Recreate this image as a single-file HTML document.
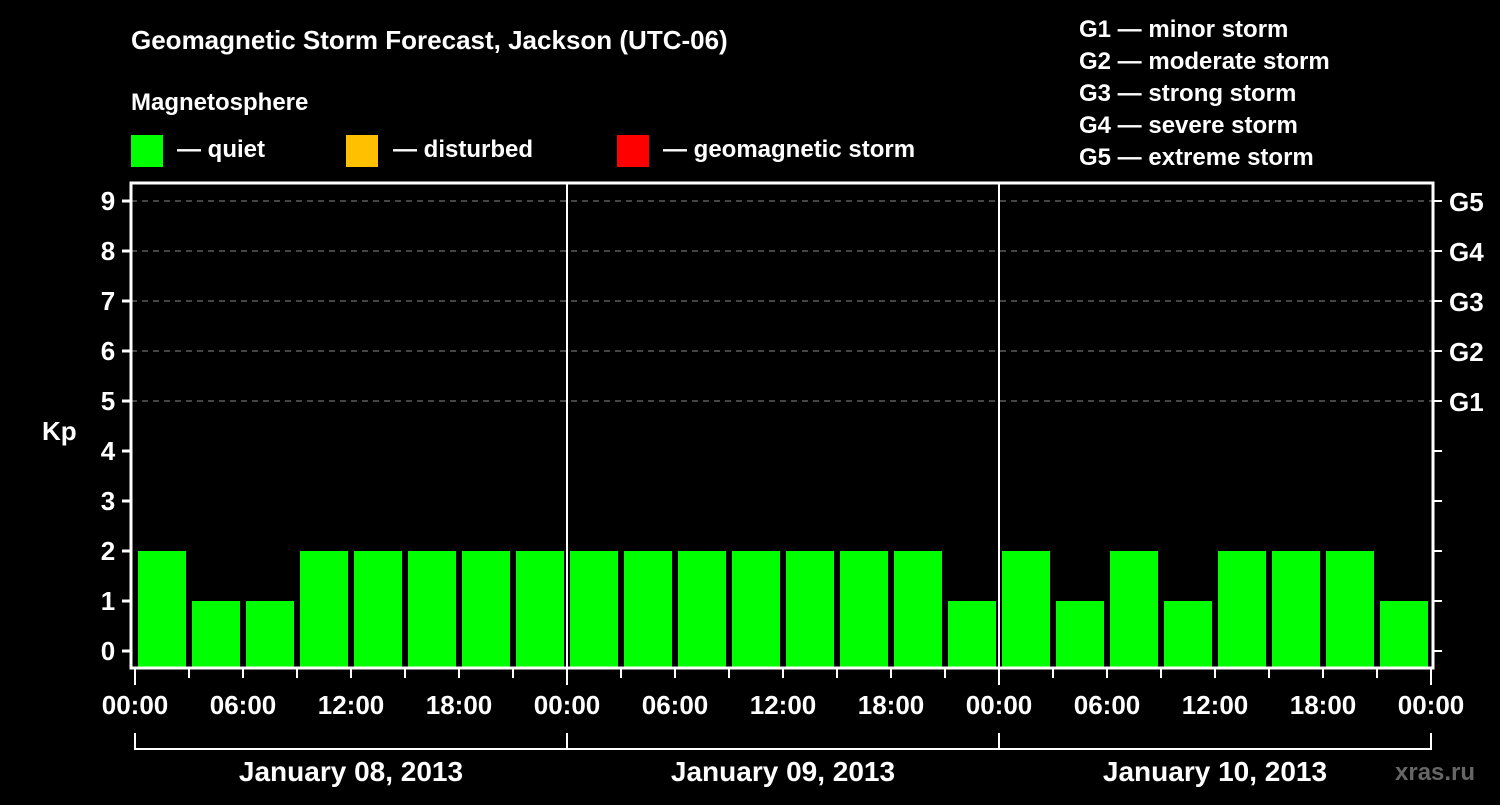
<!DOCTYPE html>
<html><head><meta charset="utf-8"><style>
body{margin:0;background:#000;width:1500px;height:800px;overflow:hidden}
svg text{font-family:"Liberation Sans",sans-serif;font-weight:bold;fill:#fff}
</style></head><body>
<svg id="c" width="1500" height="800">
<text x="131" y="49" font-size="26">Geomagnetic Storm Forecast, Jackson (UTC-06)</text>
<text x="131" y="110" font-size="24">Magnetosphere</text>
<rect x="131" y="135" width="32" height="32" fill="#00ff00"/>
<text x="177" y="157" font-size="24">— quiet</text>
<rect x="346" y="135" width="32" height="32" fill="#ffc000"/>
<text x="393" y="157" font-size="24">— disturbed</text>
<rect x="617" y="135" width="32" height="32" fill="#ff0000"/>
<text x="663" y="157" font-size="24">— geomagnetic storm</text>
<g font-size="24">
<text x="1079" y="37">G1 — minor storm</text>
<text x="1079" y="69">G2 — moderate storm</text>
<text x="1079" y="101">G3 — strong storm</text>
<text x="1079" y="133">G4 — severe storm</text>
<text x="1079" y="165">G5 — extreme storm</text>
</g>
<text x="42" y="440" font-size="26">Kp</text>
<text x="1395" y="780" font-size="24" fill="#555" style="fill:#666">xras.ru</text>
<g id="plot"></g>
</svg>
<script>
const kpValues=[2,1,1,2,2,2,2,2, 2,2,2,2,2,2,2,1, 2,1,2,1,2,2,2,1];
const hourLabels=["00:00","06:00","12:00","18:00"];
const dayLabels=["January 08, 2013","January 09, 2013","January 10, 2013"];
const gLabels=["G1","G2","G3","G4","G5"];
const NS="http://www.w3.org/2000/svg";
const g=document.getElementById('plot');
const L=131,R=1433,T=183,B=668,X0=135,slotW=54;
const y=v=>651-50*v;
const x=i=>X0+slotW*i;
function mk(t,a){const e=document.createElementNS(NS,t);for(const k in a)e.setAttribute(k,a[k]);g.appendChild(e);return e;}
for(let v=5;v<=9;v++){const e=mk('line',{x1:L,x2:R,y1:y(v),y2:y(v),stroke:'#888','stroke-dasharray':'6,5'});

}
kpValues.forEach((v,i)=>{const c=v>=5?'#ff0000':(v>=4?'#ffc000':'#00ff00');
const r=mk('rect',{x:x(i)+3,y:y(v),width:48,height:B-1-y(v),fill:c});

});
for(let d=1;d<3;d++){const e=mk('line',{x1:x(d*8),x2:x(d*8),y1:T,y2:B,stroke:'#fff','stroke-width':2});

}
const f=mk('rect',{x:L,y:T,width:R-L,height:B-T,fill:'none',stroke:'#fff','stroke-width':3});


for(let v=0;v<=9;v++){
mk('line',{x1:122,x2:L,y1:y(v),y2:y(v),stroke:'#fff','stroke-width':3});
mk('line',{x1:R,x2:1442,y1:y(v),y2:y(v),stroke:'#fff','stroke-width':2});
const t=mk('text',{x:108,y:y(v)+9,'font-size':26,'text-anchor':'middle'});t.textContent=v;


if(v>=5){const s=mk('text',{x:1449,y:y(v)+10,'font-size':26});s.textContent=gLabels[v-5];

}}
for(let i=0;i<=24;i++){const big=i%8==0;
mk('line',{x1:x(i),x2:x(i),y1:B,y2:big?685:678,stroke:'#fff','stroke-width':2});
if(i%2==0){const t=mk('text',{x:x(i),y:714,'font-size':26,'text-anchor':'middle'});t.textContent=hourLabels[(i/2)%4];

}}
mk('path',{d:`M${x(0)},733 V749 H${x(24)} V733 M${x(8)},733 V749 M${x(16)},733 V749`,stroke:'#fff','stroke-width':2,fill:'none'});
dayLabels.forEach((d,k)=>{const t=mk('text',{x:x(k*8+4),y:781,'font-size':28,'text-anchor':'middle'});t.textContent=d;

});
</script>
</body></html>
